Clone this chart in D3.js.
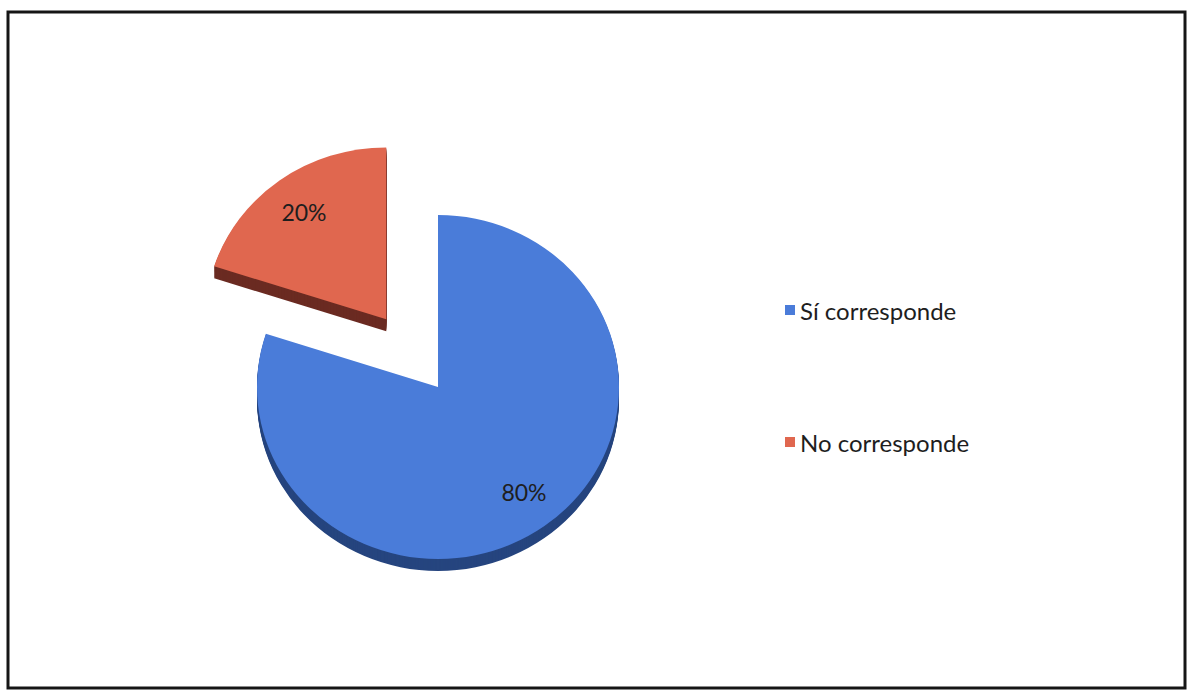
<!DOCTYPE html>
<html>
<head>
<meta charset="utf-8">
<script src="https://cdn.jsdelivr.net/npm/d3@7"></script>
<style>
  html, body { margin: 0; padding: 0; background: #fff; }
  svg { display: block; }
</style>
</head>
<body>
<svg id="chart" width="1189" height="691"></svg>
<script>
// Chart data
const categories = ["Sí corresponde", "No corresponde"];
const values = [80, 20];
const labels = ["80%", "20%"];
const topColors = ["#4a7cd9", "#e0674f"];
const wallColors = ["#26457f", "#6b2b22"];

const svg = d3.select("#chart");

// Chart frame
svg.append("rect")
  .attr("x", 8).attr("y", 12)
  .attr("width", 1177).attr("height", 676)
  .attr("fill", "#fff")
  .attr("stroke", "#161616")
  .attr("stroke-width", 3);

// Tilted pie geometry
const cx = 438, cy = 387;
const R = 181;           // horizontal radius
const ky = 0.95;         // vertical squash for the tilt
const depth = 12;        // wall thickness in px
const explode = 88;      // offset of the pulled-out slice

const pie = d3.pie().sort(null).value(d => d).startAngle(0).endAngle(2 * Math.PI);
const arcs = pie(values);
const arc = d3.arc().innerRadius(0).outerRadius(R);

const pieG = svg.append("g")
  .attr("transform", `translate(${cx},${cy}) scale(1,${ky})`);

// Draw the pulled-out slice first, then the main one
const order = [1, 0];
order.forEach(i => {
  const a = arcs[i];
  const mid = (a.startAngle + a.endAngle) / 2;
  const off = i === 1 ? explode : 0;
  const dx = Math.sin(mid) * off;
  const dy = -Math.cos(mid) * off;
  const g = pieG.append("g").attr("transform", `translate(${dx},${dy})`);
  const d = arc(a);
  // side walls: stacked copies shifted down
  for (let s = depth; s >= 1; s--) {
    g.append("path")
      .attr("d", d)
      .attr("transform", `translate(0,${s / ky})`)
      .attr("fill", wallColors[i]);
  }
  g.append("path").attr("d", d).attr("fill", topColors[i]);
});

// Percentage labels
const labelPos = [[524, 492], [304, 212]];
labels.forEach((t, i) => {
  svg.append("text")
    .attr("x", labelPos[i][0]).attr("y", labelPos[i][1])
    .attr("text-anchor", "middle")
    .attr("dominant-baseline", "central")
    .attr("font-family", "Lato, 'Open Sans', sans-serif")
    .attr("font-size", 23)
    .attr("fill", "#1e1e1e")
    .text(t);
});

// Legend
const legend = svg.append("g").attr("transform", "translate(785,0)");
const legendY = d3.scalePoint().domain(categories).range([310, 442]);
categories.forEach((c, i) => {
  const y = legendY(c);
  legend.append("rect")
    .attr("x", 0).attr("y", y - 5)
    .attr("width", 10).attr("height", 10)
    .attr("fill", topColors[i]);
  legend.append("text")
    .attr("x", 15).attr("y", y)
    .attr("dominant-baseline", "central")
    .attr("font-family", "Lato, 'Open Sans', sans-serif")
    .attr("font-size", 24)
    .attr("fill", "#1e1e1e")
    .text(c);
});
</script>
</body>
</html>
